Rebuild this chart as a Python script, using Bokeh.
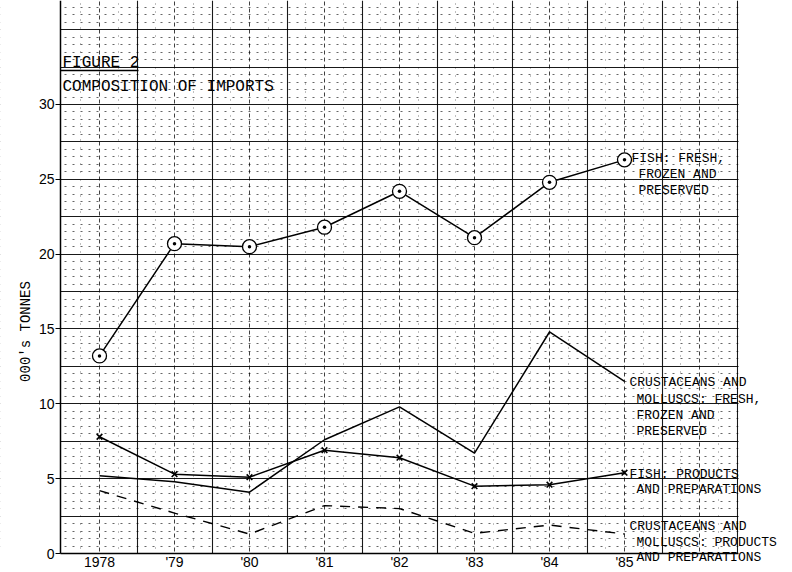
import numpy as np
from bokeh.plotting import figure
from bokeh.models import (Range1d, FixedTicker, Grid, Label, ColumnDataSource,
                          BoxAnnotation)
from bokeh.embed import file_html
from bokeh.resources import INLINE

# ---- data ----
years = [1978, 1979, 1980, 1981, 1982, 1983, 1984, 1985]
year_labels = ["1978", "'79", "'80", "'81", "'82", "'83", "'84", "'85"]
fish_fresh = [13.2, 20.7, 20.5, 21.8, 24.2, 21.1, 24.8, 26.3]
crus_fresh = [5.2, 4.8, 4.1, 7.6, 9.8, 6.7, 14.8, 11.5]
fish_prod = [7.8, 5.3, 5.1, 6.9, 6.4, 4.5, 4.6, 5.4]
crus_prod = [4.2, 2.7, 1.3, 3.2, 3.0, 1.35, 1.9, 1.3]
y_ticks = [0, 5, 10, 15, 20, 25, 30]

MONO = "Liberation Mono"
SANS = "Liberation Sans"

W, H = 790, 572
PPX = 75.0        # px per year
PPY = 14.967      # px per thousand tonnes
X_LEFT_PX = 99    # where 1978 sits
Y_ZERO_PX = 553   # where 0 sits
XS = years[0] - X_LEFT_PX / PPX
XE = XS + W / PPX
YS = -(H - Y_ZERO_PX) / PPY
YE = Y_ZERO_PX / PPY
GX0, GX1 = 1977.48, 1986.52   # extent of the graph paper

def dx(px):
    return XS + px / PPX

def dy(py):
    return (Y_ZERO_PX - py) / PPY

p = figure(width=W, height=H, output_backend="svg", toolbar_location=None,
           x_range=Range1d(XS, XE), y_range=Range1d(YS, YE),
           min_border_left=0, min_border_right=0, min_border_top=0,
           min_border_bottom=0, background_fill_color="white",
           border_fill_color="white")
p.outline_line_color = None
p.xgrid.visible = False
p.ygrid.visible = False

# graph-paper grid
def add_grid(dim, ticks, width=1.0, alpha=1.0, dash="solid"):
    p.add_layout(Grid(dimension=dim, ticker=FixedTicker(ticks=list(ticks)),
                      grid_line_color="black", grid_line_width=width,
                      grid_line_alpha=alpha, grid_line_dash=dash))

half = np.arange(0.5, 37.0, 0.5)
minor_y = [v for v in half if abs(v / 2.5 - round(v / 2.5)) > 1e-6]
add_grid(1, minor_y, alpha=0.6, dash="2 6")
qx = np.arange(1977.75, 1986.6, 0.25)
minor_x = [v for v in qx if abs(v * 2 - round(v * 2)) > 1e-6]
add_grid(0, minor_x, alpha=0.5, dash="1 7")
add_grid(0, np.arange(1978, 1987, 1.0), alpha=0.75, dash="4 3")
add_grid(0, np.arange(1978.5, 1987, 1.0), width=1.1, alpha=0.9)
add_grid(1, np.arange(2.5, 37, 2.5), width=1.1, alpha=0.9)

# mask the paper outside its edges
for kw in (dict(left=XS - 1, right=GX0, bottom=YS - 1, top=YE + 1),
           dict(left=GX1, right=XE + 1, bottom=YS - 1, top=YE + 1),
           dict(left=XS - 1, right=XE + 1, bottom=YS - 1, top=0)):
    p.add_layout(BoxAnnotation(fill_color="white", fill_alpha=1.0,
                               line_color=None, level="underlay", **kw))

# axes inside the frame
p.xaxis.fixed_location = 0
p.yaxis.fixed_location = GX0
p.xaxis.bounds = (GX0, GX1)
p.yaxis.bounds = (0, YE)
p.xaxis.ticker = FixedTicker(ticks=years)
p.xaxis.major_label_overrides = {y: l for y, l in zip(years, year_labels)}
p.xaxis.major_tick_line_color = None
p.xaxis.major_tick_out = 0
p.xaxis.major_tick_in = 0
p.xaxis.minor_tick_line_color = None
p.xaxis.major_label_standoff = 0
p.yaxis.ticker = FixedTicker(ticks=y_ticks)
p.yaxis.major_tick_out = 5
p.yaxis.major_tick_in = 0
p.yaxis.minor_tick_line_color = None
p.yaxis.major_label_standoff = 1
for ax in (p.xaxis, p.yaxis):
    ax.axis_line_color = "black"
    ax.axis_line_width = 1.5
    ax.major_label_text_font = SANS
    ax.major_label_text_font_size = "14px"
    ax.major_label_text_color = "black"

# series
src = ColumnDataSource(dict(x=years, ff=fish_fresh, cf=crus_fresh,
                            fp=fish_prod, cp=crus_prod))
p.line("x", "ff", source=src, color="black", line_width=1.5)
p.scatter("x", "ff", source=src, marker="circle_dot", size=14,
          line_color="black", fill_color="white", line_width=1.3)
p.line("x", "cf", source=src, color="black", line_width=1.5)
p.line("x", "fp", source=src, color="black", line_width=1.5)
p.scatter("x", "fp", source=src, marker="x", size=8,
          line_color="black", line_width=1.6)
p.line("x", "cp", source=src, color="black", line_width=1.4,
       line_dash="10 8")

def lab(text, x, y, xo=0, yo=0, size="13px", **kw):
    p.add_layout(Label(x=x, y=y, x_offset=xo, y_offset=yo, text=text,
                       text_font=MONO, text_font_size=size,
                       text_color="black", text_baseline="middle", **kw))

# series labels at end points
xe = years[-1]
lab("FISH: FRESH,", xe, fish_fresh[-1], 7, 1)
lab("FROZEN AND", xe, fish_fresh[-1], 14, -15)
lab("PRESERVED", xe, fish_fresh[-1], 14, -31)

lab("CRUSTACEANS AND", xe, crus_fresh[-1], 5, -1)
lab("MOLLUSCS: FRESH,", xe, crus_fresh[-1], 12, -18)
lab("FROZEN AND", xe, crus_fresh[-1], 12, -34)
lab("PRESERVED", xe, crus_fresh[-1], 12, -50)

lab("FISH: PRODUCTS", xe, fish_prod[-1], 5, -2)
lab("AND PREPARATIONS", xe, fish_prod[-1], 12, -17)

lab("CRUSTACEANS AND", xe, crus_prod[-1], 5, 8)
lab("MOLLUSCS: PRODUCTS", xe, crus_prod[-1], 12, -8)
lab("AND PREPARATIONS", xe, crus_prod[-1], 12, -23)

# title block
lab("FIGURE 2", dx(62), dy(62), size="16px")
lab("COMPOSITION OF IMPORTS", dx(62), dy(86), size="16px")
p.segment(x0=[dx(60)], y0=[dy(70)], x1=[dx(138)], y1=[dy(70)],
          line_color="black", line_width=1.5)

# y-axis title
p.add_layout(Label(x=dx(25), y=dy(331), text="000's TONNES", angle=np.pi / 2,
                   text_font=MONO, text_font_size="14px", text_color="black",
                   text_align="center", text_baseline="middle"))

open("out.html", "w").write(file_html(p, INLINE))
